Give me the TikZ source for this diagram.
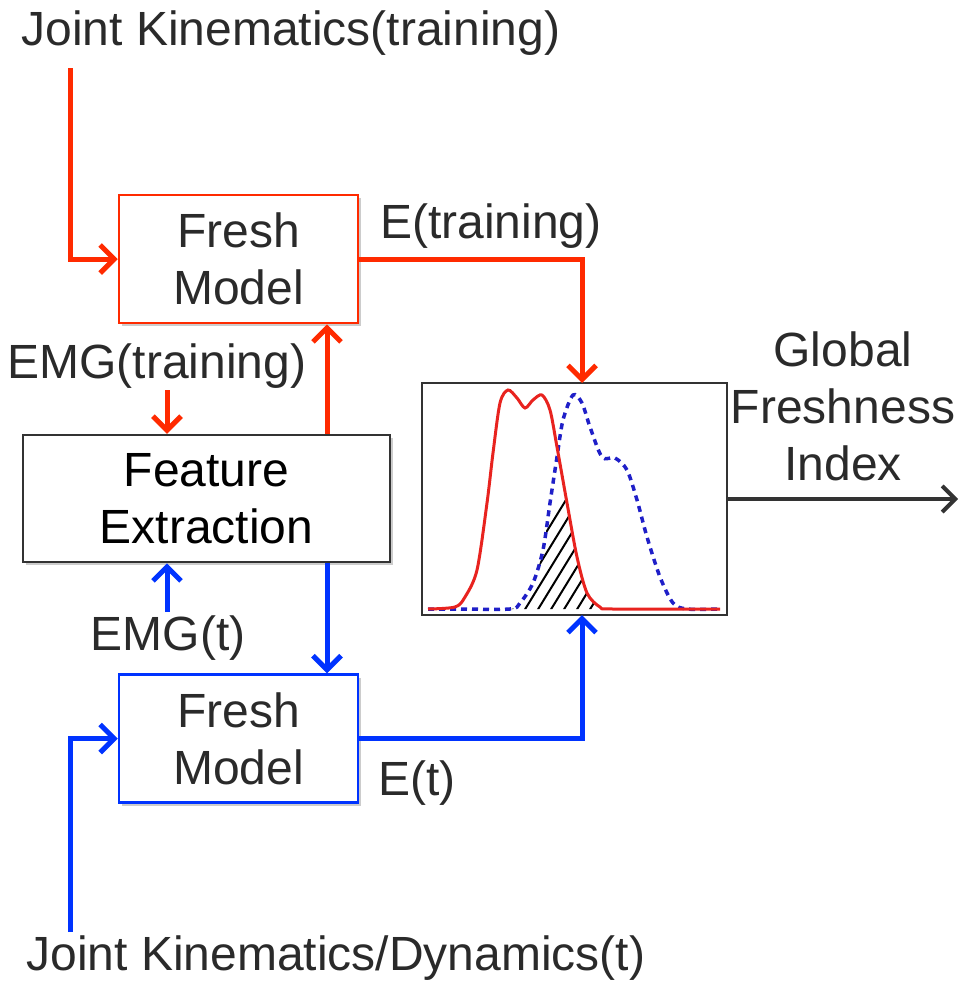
\documentclass[tikz,border=0pt]{standalone}
\usepackage{fontspec}
\setmainfont{Liberation Sans}
\usetikzlibrary{arrows.meta,shadows}
\definecolor{cred}{HTML}{FF2A00}
\definecolor{cblue}{HTML}{0033FF}
\definecolor{pred}{HTML}{E8231F}
\definecolor{pblue}{HTML}{1F1FC8}
\definecolor{txt}{HTML}{2A2A2A}
\tikzset{
  lbl/.style={inner sep=0pt, text=txt, font=\fontsize{48}{57}\selectfont},
  boxbase/.style={draw, line width=2.5pt, fill=white, minimum height=128pt, inner sep=0pt,
     align=center, font=\fontsize{48}{57}\selectfont,
     drop shadow={shadow xshift=3pt, shadow yshift=-3pt, opacity=0.2, fill=black}},
  redbox/.style={boxbase, draw=cred, minimum width=239pt, text=txt},
  bluebox/.style={boxbase, draw=cblue, minimum width=239pt, text=txt},
  featbox/.style={boxbase, draw=black!80, minimum width=367pt, minimum height=127pt, text=black},
  redarr/.style={draw=cred, line width=5pt, -{Straight Barb[length=14pt,width=28pt]}},
  bluearr/.style={draw=cblue, line width=5pt, -{Straight Barb[length=14pt,width=28pt]}},
  grayarr/.style={draw=black!80, line width=4pt, -{Straight Barb[length=13pt,width=26pt]}},
}
\begin{document}
\begin{tikzpicture}[x=1pt,y=-1pt]
\useasboundingbox (0,0) rectangle (960,983);

% labels
\node[lbl] (jkt) at (291,33) {Joint Kinematics(training)};
\node[lbl, anchor=west] (etr) at (380,226) {E(training)};
\node[lbl] (emgtr) at (157,366) {EMG(training)};
\node[lbl] (emgt) at (168,638) {EMG(t)};
\node[lbl] (et) at (417,783) {E(t)};
\node[lbl] (jkd) at (336,958) {Joint Kinematics/Dynamics(t)};
\node[lbl, align=center] (gfi) at (843,406) {Global\\Freshness\\Index};

% boxes
\node[redbox] (fm1) at (238.5,259) {Fresh\\Model};
\node[featbox] (fe) at (206.5,498.5) {Feature\\Extraction};
\node[bluebox] (fm2) at (238.5,738.5) {Fresh\\Model};
\node[draw=black!80, line width=2pt, minimum width=305pt, minimum height=232pt, inner sep=0pt] (pl) at (574.5,499) {};

% plot curves
\begin{scope}
\clip plot[smooth] coordinates {(457,609) (510,609) (520,603) (533,583) (543,550) (550,503) (557,457) (563,420) (573,395) (582,403) (590,427) (602,457) (615,458) (627,470) (637,500) (647,537) (660,577) (673,603) (687,609) (720,609)} -- cycle;
\clip plot[smooth] coordinates {(428,609) (455,607) (465,597) (477,570) (487,503) (493,453) (500,403) (508,390) (517,398) (525,408) (533,400) (542,395) (550,410) (557,447) (567,503) (577,557) (587,593) (600,607) (613,609) (720,609)} -- cycle;
\clip (422,482) rectangle (727,609);
\foreach \i in {0,...,12} \draw[black, line width=2pt] (468+\i*13,660) -- ++(120,-196);
\end{scope}
\draw[pblue, line width=3.5pt, dash pattern=on 6pt off 5pt] plot[smooth] coordinates {(428,609) (457,609) (510,609) (520,603) (533,583) (543,550) (550,503) (557,457) (563,420) (573,395) (582,403) (590,427) (602,457) (615,458) (627,470) (637,500) (647,537) (660,577) (673,603) (687,609) (720,609)};
\draw[pred, line width=3pt] plot[smooth] coordinates {(428,609) (455,607) (465,597) (477,570) (487,503) (493,453) (500,403) (508,390) (517,398) (525,408) (533,400) (542,395) (550,410) (557,447) (567,503) (577,557) (587,593) (600,607) (613,609) (720,609)};

% coordinates
\coordinate (a1) at (70,68);
\coordinate (b1) at (70,932);
\coordinate (e1) at (167,390);
\coordinate (e2) at (167,612);
\coordinate (c1) at (327,0);
\coordinate (pin) at (582,383);
\coordinate (pout) at (582,615);
\coordinate (outend) at (958,499);

% connectors
\draw[redarr] (a1) |- (fm1.west);
\draw[redarr] (fm1.east) -| (pin);
\draw[redarr] (e1) -- (fe.north -| e1);
\draw[redarr] (fe.north -| c1) -- (fm1.south -| c1);
\draw[bluearr] (e2) -- (fe.south -| e2);
\draw[bluearr] (fe.south -| c1) -- (fm2.north -| c1);
\draw[bluearr] (b1) |- (fm2.west);
\draw[bluearr] (fm2.east) -| (pout);
\draw[grayarr] (pl.east) -- (outend);
\end{tikzpicture}
\end{document}
